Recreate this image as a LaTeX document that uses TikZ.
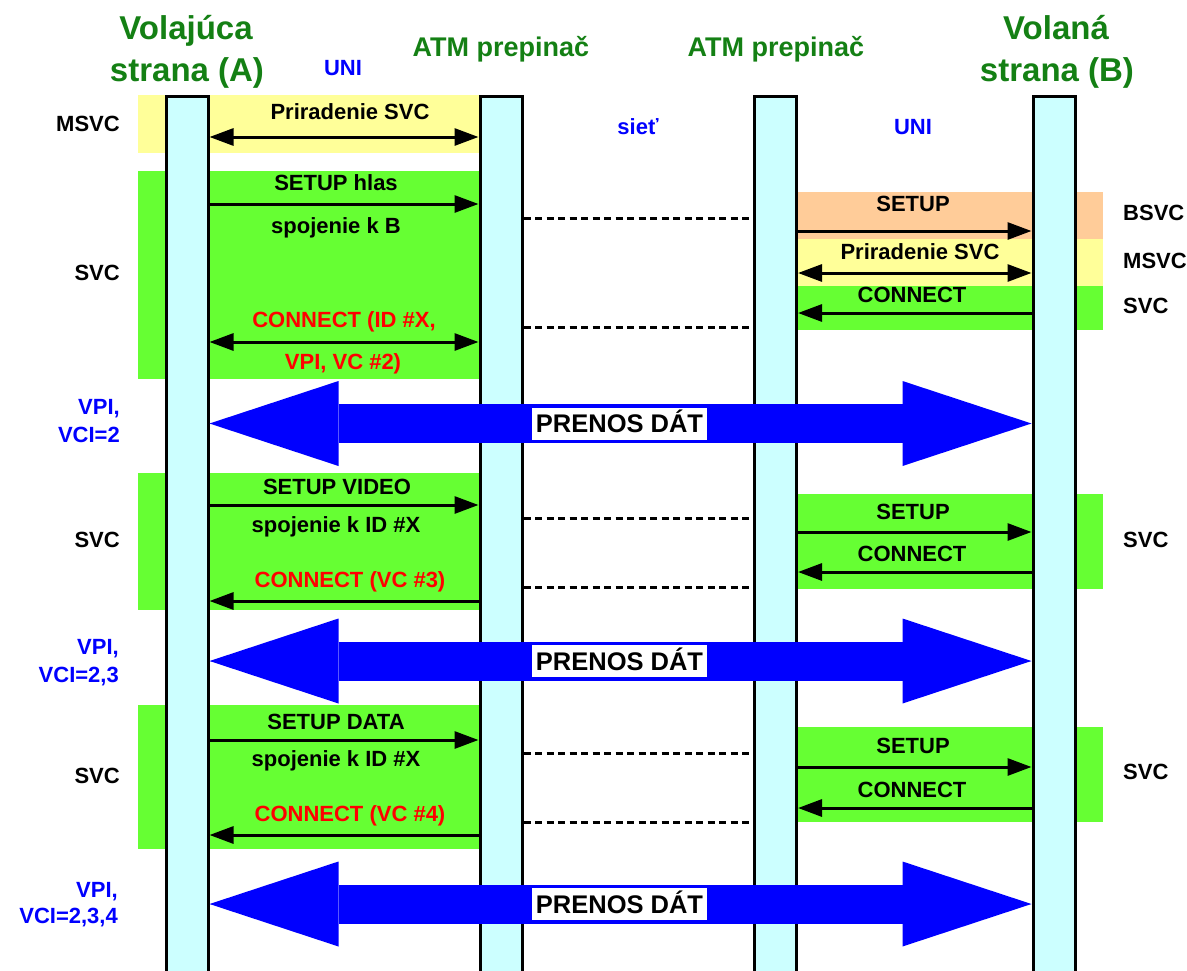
\documentclass[tikz,border=0pt]{standalone}
\usepackage{fontspec}
\setmainfont{Liberation Sans}
\usetikzlibrary{arrows.meta}
\definecolor{barfill}{RGB}{204,255,255}
\definecolor{bandgreen}{RGB}{102,255,51}
\definecolor{bandyellow}{RGB}{255,255,153}
\definecolor{bandorange}{RGB}{255,204,153}
\definecolor{titlegreen}{RGB}{20,128,20}
\definecolor{datablue}{RGB}{0,0,255}
\definecolor{msgred}{RGB}{255,0,0}
\begin{document}
\begin{tikzpicture}[x=1pt,y=-1pt,
  lifebar/.style={draw=black, line width=3pt, fill=barfill, inner sep=0pt, minimum width=42pt, minimum height=920pt, anchor=north},
  msg/.style={line width=3pt, -{Triangle[length=24pt,width=17pt]}},
  msgback/.style={line width=3pt, {Triangle[length=24pt,width=17pt]}-},
  msgboth/.style={line width=3pt, {Triangle[length=24pt,width=17pt]}-{Triangle[length=24pt,width=17pt]}},
  netdots/.style={line width=3pt, dash pattern=on 7pt off 4.5pt},
  datarrow/.style={draw=datablue, line width=39pt, {Triangle[length=129pt,width=85pt,line width=0pt]}-{Triangle[length=129pt,width=85pt,line width=0pt]}},
  databox/.style={fill=white, inner sep=0pt, minimum width=175pt, minimum height=32pt, font=\fontsize{25.5}{27}\selectfont\bfseries, text height=18pt, text depth=0pt},
  lbl/.style={font=\fontsize{22}{24}\selectfont\bfseries, text height=15.75pt, text depth=0pt, inner sep=0pt},
  msgl/.style={font=\fontsize{22}{24}\selectfont\bfseries, text height=15.75pt, text depth=0pt, inner sep=0pt},
  ttl/.style={font=\fontsize{33}{36}\selectfont\bfseries, text=titlegreen, text height=23.6pt, text depth=0pt, inner sep=0pt},
  atm/.style={font=\fontsize{27}{29}\selectfont\bfseries, text=titlegreen, text height=19.3pt, text depth=0pt, inner sep=0pt},
  bluel/.style={lbl, text=datablue},
  redl/.style={msgl, text=msgred}
]
\clip (0,0) rectangle (1187,970);
\fill[white] (0,0) rectangle (1187,970);

% bands left
\fill[bandyellow] (138,95) rectangle (480,153);
\fill[bandgreen] (138,171) rectangle (480,379);
\fill[bandgreen] (138,473) rectangle (480,610);
\fill[bandgreen] (138,705) rectangle (480,849);
% bands right
\fill[bandorange] (797,192) rectangle (1103,239);
\fill[bandyellow] (797,239) rectangle (1103,286);
\fill[bandgreen] (797,286) rectangle (1103,330);
\fill[bandgreen] (797,494) rectangle (1103,589);
\fill[bandgreen] (797,727) rectangle (1103,822);

% lifelines
\node[lifebar] (A) at (187,95) {};
\node[lifebar] (S1) at (501,95) {};
\node[lifebar] (S2) at (775.5,95) {};
\node[lifebar] (B) at (1054,95) {};

% titles
\node[ttl] (tA1) at (186,27.5) {Volajúca};
\node[ttl] (tA2) at (187,70) {strana (A)};
\node[ttl] (tB1) at (1056,27.5) {Volaná};
\node[ttl] (tB2) at (1057,69.5) {strana (B)};
\node[atm] (t1) at (501,47) {ATM prepinač};
\node[atm] (t2) at (776,47) {ATM prepinač};
\node[bluel] (uni1) at (343,68) {UNI};
\node[bluel] (siet) at (638,127) {sieť};
\node[bluel] (uni2) at (913,127) {UNI};

% left side labels
\node[lbl, anchor=east] (lm) at (120,124) {MSVC};
\node[lbl, anchor=east] (ls1) at (120,273) {SVC};
\node[lbl, anchor=east] (ls2) at (120,540) {SVC};
\node[lbl, anchor=east] (ls3) at (120,776) {SVC};
\node[bluel, anchor=east] (v1a) at (120,407) {VPI,};
\node[bluel, anchor=east] (v1b) at (120,435) {VCI=2};
\node[bluel, anchor=east] (v2a) at (119,647) {VPI,};
\node[bluel, anchor=east] (v2b) at (119,675) {VCI=2,3};
\node[bluel, anchor=east] (v3a) at (118,890) {VPI,};
\node[bluel, anchor=east] (v3b) at (118,916) {VCI=2,3,4};

% right side labels
\node[lbl, anchor=west] (rb) at (1123,213) {BSVC};
\node[lbl, anchor=west] (rm) at (1123,261) {MSVC};
\node[lbl, anchor=west] (rs1) at (1123,306) {SVC};
\node[lbl, anchor=west] (rs2) at (1123,540) {SVC};
\node[lbl, anchor=west] (rs3) at (1123,772) {SVC};

% first block, left
\node[msgl] (m1) at (350,112) {Priradenie SVC};
\draw[msgboth] (A.east |- 0,137) -- (S1.west |- 0,137);
\node[msgl] (m2) at (336,183) {SETUP hlas};
\draw[msg] (A.east |- 0,204) -- (S1.west |- 0,204);
\node[msgl] (m3) at (336,226) {spojenie k B};
\node[redl] (m4) at (344,320) {CONNECT (ID \#X,};
\draw[msgboth] (A.east |- 0,342) -- (S1.west |- 0,342);
\node[redl] (m5) at (343,362) {VPI, VC \#2)};
\draw[netdots] (S1.east |- 0,218) -- (S2.west |- 0,218);
\draw[netdots] (S1.east |- 0,327) -- (S2.west |- 0,327);

% first block, right
\node[msgl] (r1) at (913,204) {SETUP};
\draw[msg] (S2.east |- 0,231) -- (B.west |- 0,231);
\node[msgl] (r2) at (920,252) {Priradenie SVC};
\draw[msgboth] (S2.east |- 0,273) -- (B.west |- 0,273);
\node[msgl] (r3) at (912,295) {CONNECT};
\draw[msgback] (S2.east |- 0,313) -- (B.west |- 0,313);

% second block
\node[msgl] (m6) at (337,487) {SETUP VIDEO};
\draw[msg] (A.east |- 0,505) -- (S1.west |- 0,505);
\node[msgl] (m7) at (336,525) {spojenie k ID \#X};
\node[redl] (m8) at (350,580) {CONNECT (VC \#3)};
\draw[msgback] (A.east |- 0,601) -- (S1.west |- 0,601);
\draw[netdots] (S1.east |- 0,518) -- (S2.west |- 0,518);
\draw[netdots] (S1.east |- 0,587) -- (S2.west |- 0,587);
\node[msgl] (r4) at (913,512) {SETUP};
\draw[msg] (S2.east |- 0,532) -- (B.west |- 0,532);
\node[msgl] (r5) at (912,554) {CONNECT};
\draw[msgback] (S2.east |- 0,572) -- (B.west |- 0,572);

% third block
\node[msgl] (m9) at (336,722) {SETUP DATA};
\draw[msg] (A.east |- 0,740) -- (S1.west |- 0,740);
\node[msgl] (m10) at (336,759) {spojenie k ID \#X};
\node[redl] (m11) at (350,814) {CONNECT (VC \#4)};
\draw[msgback] (A.east |- 0,835) -- (S1.west |- 0,835);
\draw[netdots] (S1.east |- 0,753) -- (S2.west |- 0,753);
\draw[netdots] (S1.east |- 0,822) -- (S2.west |- 0,822);
\node[msgl] (r6) at (913,746) {SETUP};
\draw[msg] (S2.east |- 0,767) -- (B.west |- 0,767);
\node[msgl] (r7) at (912,790) {CONNECT};
\draw[msgback] (S2.east |- 0,808) -- (B.west |- 0,808);

% data transfer arrows
\draw[datarrow] (A.east |- 0,423.5) -- (B.west |- 0,423.5);
\node[databox] (d1) at (619.5,423.5) {PRENOS DÁT};
\draw[datarrow] (A.east |- 0,661) -- (B.west |- 0,661);
\node[databox] (d2) at (619.5,661) {PRENOS DÁT};
\draw[datarrow] (A.east |- 0,904) -- (B.west |- 0,904);
\node[databox] (d3) at (619.5,904) {PRENOS DÁT};
\end{tikzpicture}
\end{document}
